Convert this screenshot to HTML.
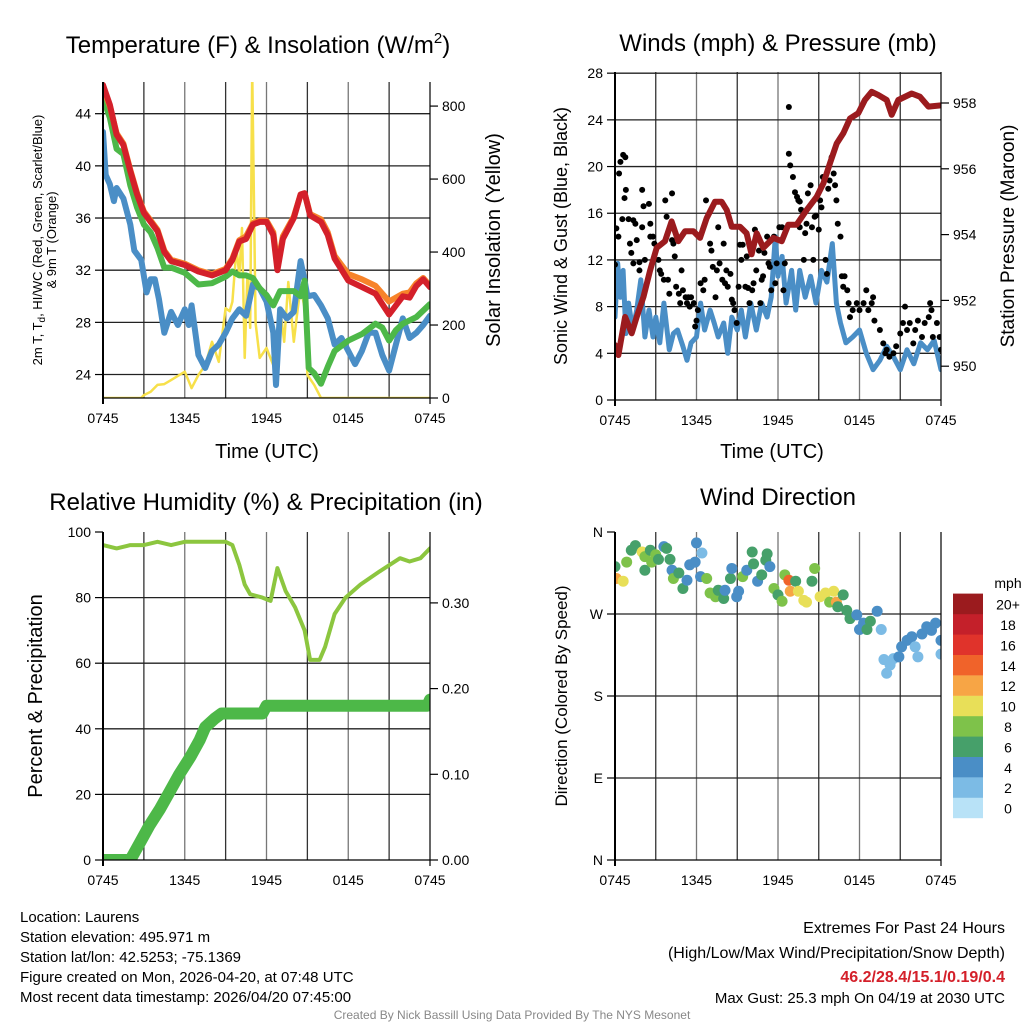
<!DOCTYPE html>
<html><head><meta charset="utf-8"><style>
body{margin:0;background:#fff}
svg{display:block;font-family:"Liberation Sans",Arial,sans-serif}
</style></head><body>
<svg id="c" width="1024" height="1024" viewBox="0 0 1024 1024"></svg>
<script>
// ---------- Panel 1: Temperature ----------
const tRedT=[0,0.5,1,1.5,2,2.5,3,3.5,4,4.5,5,6,7,8,9,9.5,10,10.5,11,11.5,12,12.5,12.8,13.2,14,14.5,14.8,15.2,16,16.5,17,18,19,20,21,22,22.5,23,23.5,24];
const redV=[46.2,44.7,42.4,41.6,39.6,37.8,36.4,35.7,35.0,33.4,32.7,32.4,31.9,31.6,32.0,32.8,34.2,34.4,35.5,35.7,35.7,34.7,32.0,34.4,36.0,37.8,37.9,36.2,35.7,34.7,32.9,31.2,30.7,30.2,28.6,30.0,29.9,30.8,31.3,30.7];
const orangeV=[46.0,44.6,42.5,41.7,39.7,37.9,36.5,35.8,35.1,33.5,32.8,32.5,32.0,31.7,32.1,32.9,34.3,34.6,35.6,35.8,35.8,34.9,32.3,34.6,36.1,37.8,37.9,36.3,35.9,34.9,33.1,31.7,31.3,30.8,29.6,30.2,30.3,31.0,31.4,30.8];
const tGreen=[0,0.5,1,1.5,2,2.5,3,3.5,4,4.5,5,6,7,8,9,9.5,10,10.5,11,11.5,12,12.5,13,14,14.5,14.8,15.1,15.5,16,16.5,17,18,19,20,20.5,21,21.5,22,23,24];
const greenV=[45.2,43.7,41.3,40.9,38.5,36.8,35.5,34.9,33.7,32.2,32.2,31.8,30.9,31.0,31.5,31.9,31.6,31.6,31.4,30.6,30.1,29.3,30.4,30.4,30.0,31.2,24.5,24.1,23.3,24.6,25.8,26.6,27.1,27.9,27.6,26.6,27.4,27.9,28.4,29.4];
const tBlue=[0,0.2,0.5,0.8,1,1.5,2,2.3,2.8,3.2,3.5,3.8,4.1,4.5,5,5.5,6,6.3,6.5,7,7.5,8,8.5,9,9.5,10,10.5,11,11.5,12,12.5,12.7,13,13.5,14,14.3,14.5,14.8,15,15.5,16,16.5,17,17.5,18,18.5,19,19.5,20,20.5,21,21.5,22,22.5,23,23.5,24];
const blueV=[42.6,39.3,38.6,37.3,38.3,37.5,35.5,33.5,32.8,30.3,31.3,31.3,29.8,27.2,28.8,27.8,29.0,27.8,29.3,25.5,24.5,25.8,26.3,27.2,28.3,29.0,28.5,30.9,30.6,29.6,27.2,23.2,29.0,28.3,28.8,31.1,32.7,31.2,30.0,30.1,29.3,28.3,26.3,26.8,25.8,24.8,25.8,27.2,27.2,25.5,24.3,26.3,28.3,26.8,27.2,27.8,28.5];
const tSolar=[0,2.8,3,3.5,4,4.5,5,6,6.5,7,7.5,8,8.5,9,9.3,9.5,9.8,10,10.2,10.4,10.6,10.8,10.95,11.2,11.5,12,12.5,12.8,13,13.3,13.6,14,14.3,14.5,14.8,15,15.5,16,24];
const solarV=[0,0,8,17,36,38,49,72,27,63,90,154,99,246,238,264,411,337,466,110,337,192,900,205,110,137,90,137,246,154,318,154,246,304,246,63,36,0,0];
const p1Ticks=[24,28,32,36,40,44];
const p1RTicks=[0,200,400,600,800];
const xTickLabels=['0745','1345','1945','0145','0745'];
// ---------- Panel 2: Winds ----------
const tWind=[0,0.2,0.4,0.6,0.8,1,1.3,1.6,1.9,2.2,2.5,2.8,3,3.3,3.6,4,4.3,4.6,5,5.3,5.6,6,6.3,6.6,7,7.3,7.6,8,8.3,8.6,9,9.3,9.6,10,10.4,10.8,11.2,11.5,11.8,12,12.3,12.6,13,13.3,13.6,14,14.4,14.8,15.2,15.6,16,16.3,16.6,17,17.5,18,18.5,19,19.5,20,20.5,21,21.5,22,22.5,23,23.5,24];
const windV=[7.1,11.7,8.8,11.1,5.7,8.3,6.0,7.7,10.3,5.4,7.7,5.4,7.1,4.9,8.3,4.3,5.7,6.0,4.6,3.4,4.9,5.4,8.3,6.0,7.7,6.6,5.4,6.6,4.0,7.1,6.0,7.7,5.4,8.3,6.0,8.3,7.1,8.8,14.0,10.6,12.3,8.3,11.1,7.7,11.1,8.8,10.6,8.3,11.1,10.1,13.4,8.3,6.6,4.9,5.4,6.0,4.0,2.6,3.4,4.6,3.7,2.6,4.3,3.1,4.9,4.3,5.1,2.6];
const tGust=[0,0.1,0.25,0.3,0.4,0.6,0.76,0.8,0.7,0.54,1.0,1.1,1.2,1.35,1.35,1.5,1.6,1.8,1.8,2.0,2.1,2.0,2.2,2.5,2.6,2.6,2.8,2.9,3.2,3.3,3.4,3.6,3.7,3.8,3.9,4.0,4.2,4.2,4.3,4.4,4.5,4.7,4.8,4.9,5.0,5.2,5.3,5.4,5.5,5.6,5.8,5.9,6.0,6.1,6.3,6.5,6.6,6.7,7.0,7.1,7.2,7.4,7.5,7.6,7.7,7.9,8.0,8.1,8.2,8.3,8.5,8.6,8.7,8.8,8.96,9.1,9.2,9.3,9.4,9.6,9.7,9.8,9.9,10.1,10.2,10.3,10.4,10.6,10.7,10.8,10.9,11.0,11.2,11.3,11.4,11.5,11.7,11.8,11.9,12.1,12.3,12.4,12.5,12.8,12.8,12.9,13.1,13.25,13.4,13.5,13.6,13.7,13.6,13.9,14.0,14.1,14.2,14.4,14.5,14.6,14.7,14.8,15.0,15.1,15.2,15.3,15.5,15.6,15.7,15.8,15.95,16.1,16.2,16.3,16.4,16.6,16.7,16.8,16.9,17.1,17.2,17.3,17.5,17.8,18.0,18.3,18.5,18.65,18.9,19.0,19.1,19.5,19.75,19.9,20.0,20.2,20.5,20.7,21.0,21.2,21.35,21.5,21.7,21.96,22.1,22.3,22.6,22.8,23.1,23.2,23.3,23.4,23.7,23.9,24.0];
const gustV=[11.6,14.7,14.0,19.4,20.4,21.0,20.8,18.0,17.3,15.5,15.5,13.4,12.6,11.7,15.4,15.1,13.7,11.8,11.1,18.0,16.6,14.8,12.0,16.8,15.1,14.0,14.0,13.4,12.0,11.1,10.8,10.3,17.1,15.7,10.3,9.1,17.7,13.7,13.4,12.3,9.7,9.1,8.3,11.1,9.4,8.8,8.3,8.8,8.0,8.8,8.3,6.3,6.8,7.7,10.0,9.4,10.3,17.1,13.4,12.8,11.4,8.8,11.1,14.8,11.7,10.3,13.4,10.0,11.1,9.7,10.8,8.6,8.3,7.7,6.6,9.7,13.3,12.0,13.3,9.7,12.3,9.6,8.3,9.4,10.0,14.6,11.1,12.8,8.3,10.3,10.6,12.6,14.0,11.7,11.4,9.4,14.0,10.0,11.7,14.8,14.8,9.4,11.7,25.1,21.1,20.1,19.1,17.8,17.4,17.1,17.0,16.3,14.8,12.0,14.3,15.1,17.7,18.4,14.8,12.0,15.7,15.8,14.6,17.1,16.5,19.1,12.0,10.8,18.1,18.8,20.8,19.4,18.4,17.1,15.1,14.0,10.6,9.7,10.6,9.4,8.3,7.1,7.7,8.3,7.7,8.3,9.4,7.7,8.3,8.8,6.8,6.0,4.85,4.0,4.3,3.7,4.0,4.6,5.7,6.6,8.0,6.0,6.6,4.85,6.0,6.8,5.4,6.6,7.1,8.3,7.7,5.4,6.6,5.4,4.3];
const tPres=[0,0.25,0.74,1.23,1.6,2.09,2.58,3.07,3.68,4.17,4.66,5.15,5.77,6.26,6.75,7.36,7.85,8.22,8.59,9.2,9.69,10.06,10.43,10.92,11.66,12.27,12.76,13.37,14.11,14.85,15.34,15.83,16.32,16.81,17.3,17.91,18.4,18.9,19.39,20,20.37,20.86,21.84,22.45,23.07,24];
const presV=[950.64,950.34,951.5,951.0,951.5,952.1,952.9,953.6,953.8,954.4,953.8,954.1,954.1,953.9,954.5,955.0,955.0,954.75,954.24,954.24,954.04,953.4,954.04,953.6,953.9,953.8,954.3,954.3,954.75,955.15,955.56,956.17,956.77,957.08,957.53,957.69,958.09,958.34,958.24,958.09,957.64,958.09,958.29,958.19,957.89,957.93];
const p2Ticks=[0,4,8,12,16,20,24,28];
const p2RTicks=[950,952,954,956,958];
// ---------- Panel 3: RH & precip ----------
const tRH=[0,1,2,3,4,5,6,7,8,9,9.5,10,10.4,10.8,11.7,12.3,12.8,13.4,14.1,14.8,15.2,15.9,16.3,17,17.8,18.9,20.3,21.8,22.5,23.3,24];
const rhV=[96,95,96,96,97,96,97,97,97,97,96,90,84,81,80,79,89,82,77,70,61,61,65,75,80,84,88,92,91,92,95];
const tPcp=[0,2,2.7,3.4,4.2,4.9,5.6,6.4,7.1,7.5,8.2,8.7,11.7,12.0,23.8,24];
const pcpV=[0,0,0.02,0.04,0.06,0.08,0.10,0.12,0.14,0.155,0.165,0.171,0.171,0.18,0.18,0.187];
const p3Ticks=[0,20,40,60,80,100];
const p3RTicks=[0,0.1,0.2,0.3];
const p3RLabels=['0.00','0.10','0.20','0.30'];
// ---------- Panel 4: Wind direction ----------
const tDir=[0,0.1,0.6,0.86,1.2,1.5,2.0,2.2,2.2,2.6,2.7,3.0,3.2,3.6,3.8,4.05,4.2,4.3,4.7,5.0,5.3,5.5,5.9,6.0,6.4,6.3,6.75,7.0,7.4,7.6,8.0,8.1,8.5,8.6,8.96,9.1,9.4,9.7,10.1,10.2,10.5,10.8,11.1,11.2,11.4,11.7,12.0,12.3,12.5,12.8,12.9,13.3,13.5,13.9,14.1,14.5,14.7,15.1,15.5,15.8,16.1,16.3,16.4,16.8,17.06,17.3,17.8,18.0,18.3,18.55,18.8,19.3,19.6,19.8,20.0,20.25,20.5,20.9,21.1,21.5,21.85,22.1,22.3,22.6,22.95,23.3,23.6,24,24];
const dirV=[322,309,306,327,340,345,338,333,318,340,327,335,330,344,342,330,318,309,315,298,307,324,327,348,337,311,309,293,289,296,287,296,309,320,289,295,311,318,338,325,306,313,329,336,322,298,291,284,313,307,295,306,295,285,283,306,320,289,293,283,295,283,278,291,274,265,269,253,260,253,262,273,253,220,205,214,221,223,234,241,245,234,223,248,256,252,260,241,226];
const dirSpd=[6,12,10,8,6,6,10,8,6,6,8,8,6,4,6,6,4,8,6,6,4,4,4,4,2,4,8,8,8,6,6,4,6,4,4,4,8,4,6,6,4,6,6,6,4,8,6,8,8,14,12,6,10,10,10,6,8,10,10,8,10,12,6,6,6,6,4,4,4,6,6,4,2,2,2,2,2,4,4,4,4,2,2,4,4,4,4,4,2];
const dirTicks=[0,90,180,270,360];
const dirLabels=['N','E','S','W','N'];
const cbLabels=['0','2','4','6','8','10','12','14','16','18','20+'];
const cbColors=['#b8e2f7','#7cbbe5','#4a8ec6','#46a06a','#7ec24a','#e8df58','#f7a545','#f0632a','#e0332b','#c4202a','#9b1b1e'];

const NS='http://www.w3.org/2000/svg';
const svg=document.getElementById('c');
function mk(tag,attrs,parent){const e=document.createElementNS(NS,tag);for(const k in attrs)e.setAttribute(k,attrs[k]);(parent||svg).appendChild(e);return e;}
function txt(s,x,y,size,anchor,parent,extra){const e=mk('text',Object.assign({x:x,y:y,'font-size':size,'text-anchor':anchor||'middle',fill:'#000'},extra||{}),parent);e.textContent=s;return e;}

function panel(name,L,R,T,B,y0,y1){
  const g=mk('g',{});
  
  
  const cp=mk('clipPath',{id:'cp'+name},g);
  mk('rect',{x:L,y:T,width:R-L,height:B-T},cp);
  return {g:g,L:L,R:R,T:T,B:B,sx:t=>L+(R-L)*t/24,sy:v=>B-(B-T)*(v-y0)/(y1-y0),clip:'url(#cp'+name+')'};
}
function grid(p,hvals,sy){
  for(let h=3;h<24;h+=3){const x=p.sx(h);const l=mk('line',{x1:x,x2:x,y1:p.T,y2:p.B,stroke:h%6?'#333':'#777','stroke-width':1.3},p.g);}
  hvals.forEach(v=>{const y=sy(v);if(y>p.T+1&&y<p.B-1){const l=mk('line',{x1:p.L,x2:p.R,y1:y,y2:y,stroke:'#222','stroke-width':1.3},p.g);}});
}
function frame(p){
  mk('line',{x1:p.L,x2:p.L,y1:p.T,y2:p.B+6,stroke:'#000','stroke-width':2},p.g);
  mk('line',{x1:p.R,x2:p.R,y1:p.T,y2:p.B+6,stroke:'#000','stroke-width':1.2},p.g);
  mk('line',{x1:p.L-1,x2:p.R,y1:p.B,y2:p.B,stroke:'#000','stroke-width':1.2},p.g);
  xTickLabels.forEach((s,i)=>{const x=p.sx(i*6);const t=txt(s,x,p.B+25,14,'middle',p.g);});
}
function yTicks(p,vals,sy,labels,side){
  vals.forEach((v,i)=>{const y=sy(v);const x=side==='l'?p.L:p.R;
    mk('line',{x1:side==='l'?x-8:x,x2:side==='l'?x:x+8,y1:y,y2:y,stroke:'#000','stroke-width':1.2},p.g);
    const t=txt(labels?labels[i]:String(v),side==='l'?x-12:x+12,y+5,14,side==='l'?'end':'start',p.g);
    });
}
function line(p,ts,vs,sy,color,w,name,cap){
  const pts=ts.map((t,i)=>p.sx(t).toFixed(1)+','+sy(vs[i]).toFixed(1)).join(' ');
  const e=mk('polyline',{points:pts,fill:'none',stroke:color,'stroke-width':w,'stroke-linejoin':'round','stroke-linecap':cap||'round','clip-path':p.clip},p.g);
  
}
function rot(s,x,y,size,parent,name){const t=txt(s,0,0,size,'middle',parent,{transform:'translate('+x+','+y+') rotate(-90)'});return t;}
function title(s,x,y,name){const t=txt(s,x,y,24,'middle');return t;}

// Panel 1
const p1=panel('temperature-panel',103,430,82,398,22.2,46.43);
const sy1R=v=>398-(398-82)*v/866;
grid(p1,p1Ticks,p1.sy);
line(p1,tSolar,solarV,sy1R,'#f7e04a',2.5,'solar-insolation-line');
line(p1,tBlue,blueV,p1.sy,'#4a8ec6',6,'dewpoint-line');
line(p1,tGreen,greenV,p1.sy,'#4db848',6,'heat-index-line');
line(p1,tRedT,orangeV,p1.sy,'#f7832a',6,'temp-9m-line');
line(p1,tRedT,redV,p1.sy,'#d4202a',6,'temp-2m-line');
frame(p1);yTicks(p1,p1Ticks,p1.sy,null,'l');yTicks(p1,p1RTicks,sy1R,null,'r');
const tt1=txt('Temperature (F) & Insolation (W/m',258,53,24,'middle');
const ts1=mk('tspan',{dy:-10,'font-size':15},tt1);ts1.textContent='2';const ts2=mk('tspan',{dy:10},tt1);ts2.textContent=')';
const yt=txt('',0,0,13,'middle',svg,{transform:'translate(42,240) rotate(-90)'});
yt.textContent='2m T, T';const sub=mk('tspan',{dy:3,'font-size':10},yt);sub.textContent='d';const rest=mk('tspan',{dy:-3},yt);rest.textContent=', HI/WC (Red, Green, Scarlet/Blue)';
rot('& 9m T (Orange)',56,240,13,svg,'temperature-y-title-2');
rot('Solar Insolation (Yellow)',500,240,20,svg,'insolation-y-title');
txt('Time (UTC)',267,458,20,'middle');

// Panel 2
const p2=panel('winds-panel',615,941,72,400,0,28.1);
const sy2R=v=>103+(958-v)*32.9;
grid(p2,p2Ticks,p2.sy);
line(p2,tWind,windV,p2.sy,'#4a8ec6',5,'sonic-wind-line');
tGust.forEach((t,i)=>{const c=mk('circle',{cx:p2.sx(t),cy:p2.sy(gustV[i]),r:3,fill:'#000','clip-path':p2.clip},p2.g);});
line(p2,tPres,presV,sy2R,'#9b1b1e',6,'pressure-line');
frame(p2);yTicks(p2,p2Ticks,p2.sy,null,'l');yTicks(p2,p2RTicks,sy2R,null,'r');
title('Winds (mph) & Pressure (mb)',778,51,'winds-title');
rot('Sonic Wind & Gust (Blue, Black)',567,236,18,svg,'winds-y-title');
rot('Station Pressure (Maroon)',1014,236,19,svg,'pressure-y-title');
txt('Time (UTC)',772,458,20,'middle');

// Panel 3
const p3=panel('humidity-panel',103,430,532,860,0,100);
const sy3R=v=>860-v*857;
grid(p3,p3Ticks,p3.sy);
line(p3,tPcp,pcpV,sy3R,'#4db848',12,'precip-line');
line(p3,tRH,rhV,p3.sy,'#8cc63f',4,'rh-line');
frame(p3);yTicks(p3,p3Ticks,p3.sy,null,'l');yTicks(p3,p3RTicks,sy3R,p3RLabels,'r');
title('Relative Humidity (%) & Precipitation (in)',266,510,'humidity-title');
rot('Percent & Precipitation',42,696,20,svg,'humidity-y-title');

// Panel 4
const p4=panel('direction-panel',615,941,532,860,0,360);
grid(p4,dirTicks,p4.sy);
function spdColor(s){let i=Math.floor(s/2);if(i>10)i=10;if(i<0)i=0;return cbColors[i];}
tDir.forEach((t,i)=>{const c=mk('circle',{cx:p4.sx(t),cy:p4.sy(dirV[i]),r:5.5,fill:spdColor(dirSpd[i]),'clip-path':p4.clip},p4.g);});
frame(p4);yTicks(p4,dirTicks,p4.sy,dirLabels,'l');
title('Wind Direction',778,505,'direction-title');
rot('Direction (Colored By Speed)',567,696,17,svg,'direction-y-title');
const cb=mk('g',{});
cbColors.forEach((c,i)=>{const y=818-(i+1)*20.4;const r=mk('rect',{x:953,y:y,width:30,height:20.6,fill:c},cb);
  const t=txt(cbLabels[i],1008,y+16,14,'middle',cb);});
txt('mph',1008,588,14,'middle',cb);

// Footer
const foot=mk('g',{});
['Location: Laurens','Station elevation: 495.971 m','Station lat/lon: 42.5253; -75.1369','Figure created on Mon, 2026-04-20, at 07:48 UTC','Most recent data timestamp: 2026/04/20 07:45:00'].forEach((s,i)=>txt(s,20,922+i*20,15,'start',foot));
txt('Extremes For Past 24 Hours',1005,933,16,'end',foot);
txt('(High/Low/Max Wind/Precipitation/Snow Depth)',1005,958,16,'end',foot);
txt('46.2/28.4/15.1/0.19/0.4',1005,982,16,'end',foot,{fill:'#d4202a','font-weight':'bold'});
txt('Max Gust: 25.3 mph On 04/19 at 2030 UTC',1005,1003,15,'end',foot);
txt('Created By Nick Bassill Using Data Provided By The NYS Mesonet',512,1019,12,'middle',foot,{fill:'#888'});
</script>
</body></html>
